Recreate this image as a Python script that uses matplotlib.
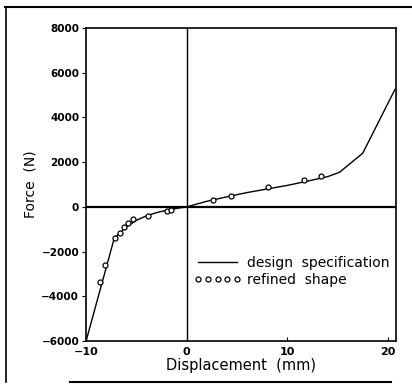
# Force vs displacement: design specification vs refined shape
import matplotlib
matplotlib.use('Agg')
import matplotlib.pyplot as plt
from matplotlib.lines import Line2D

# design specification curve (mm, N)
design_x = [-10, -7.2, -6.0, -5.0, -4.0, -3.0, -2.0, -1.0, 0, 2, 4, 6, 8, 10, 12, 14, 15.2, 17.5, 20.7]
design_y = [-6000, -1400, -900, -600, -400, -260, -150, -70, 0, 250, 450, 640, 800, 960, 1150, 1350, 1550, 2400, 5250]

# refined shape points
refined_x = [-8.6, -8.1, -7.1, -6.6, -6.2, -5.8, -5.3, -3.8, -2.0, -1.6, 2.6, 4.4, 8.1, 11.7, 13.4]
refined_y = [-3350, -2600, -1400, -1150, -900, -720, -560, -420, -200, -130, 290, 490, 890, 1180, 1390]

xticks = [-10, 0, 10, 20]
yticks = [-6000, -4000, -2000, 0, 2000, 4000, 6000, 8000]

fig = plt.figure(figsize=(4.12, 3.84), dpi=100)
ax = fig.add_axes([0.209, 0.112, 0.752, 0.815])

ax.axhline(0, color='black', lw=1.6, zorder=1)
ax.axvline(0, color='black', lw=1.0, zorder=1)

ax.plot(design_x, design_y, color='black', lw=1.0, label='design  specification', zorder=3)
ax.plot(refined_x, refined_y, ls='none', marker='o', ms=3.6, mfc='white', mec='black',
        mew=0.9, label='refined  shape', zorder=4)

ax.set_xlim(-10, 20.8)
ax.set_ylim(-6000, 8000)
ax.set_xticks(xticks)
ax.set_yticks(yticks)
ax.tick_params(axis='x', direction='in', length=3, labelsize=8, pad=4)
ax.tick_params(axis='y', direction='out', length=3, labelsize=7.5, pad=2)
for lab in ax.get_xticklabels() + ax.get_yticklabels():
    lab.set_fontweight('bold')
for s in ax.spines.values():
    s.set_linewidth(1.2)

ax.set_xlabel('Displacement  (mm)', fontsize=10.5, labelpad=1)
ax.set_ylabel('Force  (N)', fontsize=10, labelpad=3)

ax.legend(loc='upper left', bbox_to_anchor=(0.33, 0.29), frameon=False, numpoints=5,
          handlelength=3.4, handletextpad=0.4, fontsize=10, labelspacing=0.2,
          borderaxespad=0)

# scanned page border (top, left, bottom)
fig.add_artist(Line2D([0.012, 1.0], [0.982, 0.982], color='black', lw=1.5))
fig.add_artist(Line2D([0.014, 0.014], [0.005, 0.982], color='black', lw=1.2))
fig.add_artist(Line2D([0.17, 0.95], [0.006, 0.006], color='black', lw=1.5))

fig.savefig('out.png', dpi=100)
